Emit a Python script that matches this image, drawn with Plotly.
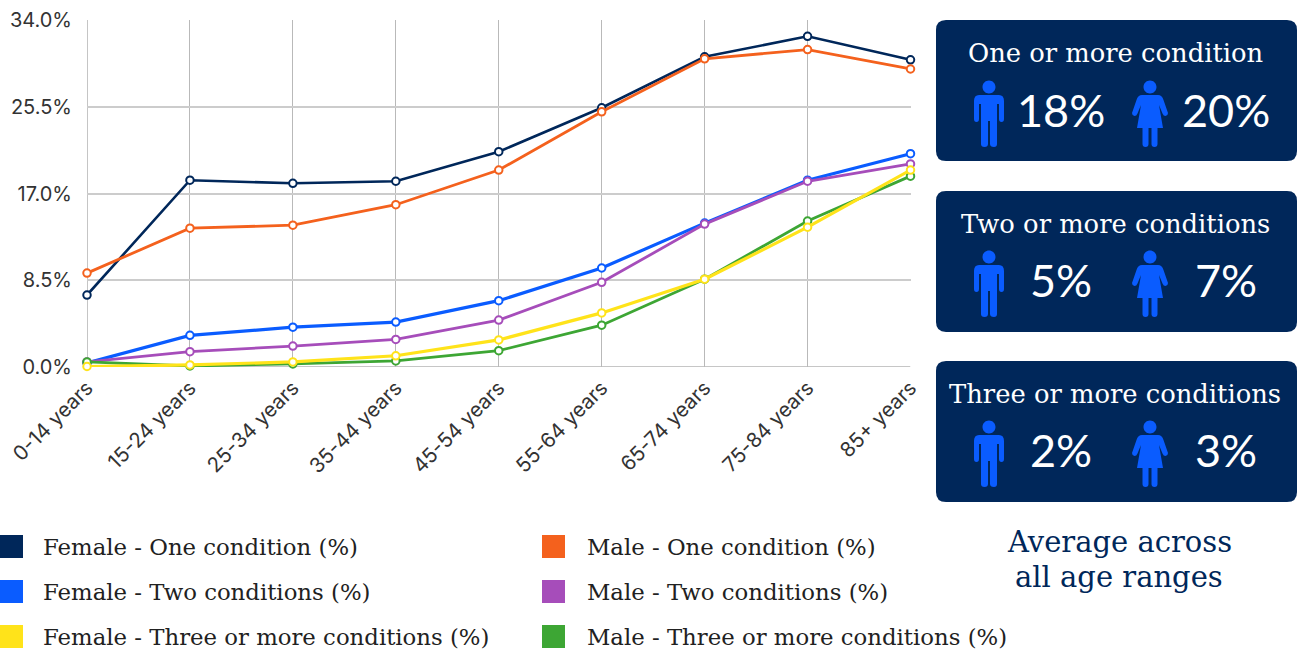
import plotly.graph_objects as go

W, H = 1298, 649
ages = ["0-14 years", "15-24 years", "25-34 years", "35-44 years", "45-54 years",
        "55-64 years", "65-74 years", "75-84 years", "85+ years"]
female_one = [7.05, 18.3, 18.0, 18.2, 21.1, 25.4, 30.4, 32.4, 30.1]
male_one = [9.2, 13.6, 13.9, 15.9, 19.3, 25.0, 30.2, 31.1, 29.2]
female_two = [0.4, 3.1, 3.9, 4.4, 6.5, 9.7, 14.1, 18.3, 20.9]
male_two = [0.5, 1.5, 2.05, 2.7, 4.6, 8.3, 14.0, 18.2, 19.9]
female_three = [0.05, 0.2, 0.5, 1.1, 2.65, 5.3, 8.6, 13.7, 19.3]
male_three = [0.5, 0.1, 0.3, 0.6, 1.6, 4.1, 8.6, 14.3, 18.7]
y_ticks = [0, 8.5, 17, 25.5, 34]
y_labels = ["0.0%", "8.5%", "17.0%", "25.5%", "34.0%"]

NAVY, ORANGE, BLUE, PURPLE, YELLOW, GREEN = "#00275a", "#f4611d", "#0a5cff", "#a64dba", "#ffe31a", "#3da634"
series = [
    ("Female - One condition (%)", female_one, NAVY, 2.6),
    ("Male - One condition (%)", male_one, ORANGE, 2.8),
    ("Female - Two conditions (%)", female_two, BLUE, 3.2),
    ("Male - Two conditions (%)", male_two, PURPLE, 2.8),
    ("Male - Three or more conditions (%)", male_three, GREEN, 2.8),
    ("Female - Three or more conditions (%)", female_three, YELLOW, 3.2),
]
panels = [("One or more condition", "18%", "20%"),
          ("Two or more conditions", "5%", "7%"),
          ("Three or more conditions", "2%", "3%")]
legend_rows = [("Female - One condition (%)", NAVY, 0, 547), ("Male - One condition (%)", ORANGE, 1, 547),
               ("Female - Two conditions (%)", BLUE, 0, 592), ("Male - Two conditions (%)", PURPLE, 1, 592),
               ("Female - Three or more conditions (%)", YELLOW, 0, 637), ("Male - Three or more conditions (%)", GREEN, 1, 637)]

SERIF = "DejaVu Serif"
SANS = "Lato"
TICK = "Inter"

def px(x): return x / W
def py(y): return 1 - y / H

def path(cmds):
    out = []
    for c in cmds:
        if isinstance(c, str):
            out.append(c)
        else:
            out.append(f"{px(c[0]):.6f},{py(c[1]):.6f}")
    return " ".join(out)

def round_rect(x0, y0, x1, y1, r):
    return path(["M", (x0 + r, y0), "L", (x1 - r, y0), "Q", (x1, y0), (x1, y0 + r),
                 "L", (x1, y1 - r), "Q", (x1, y1), (x1 - r, y1),
                 "L", (x0 + r, y1), "Q", (x0, y1), (x0, y1 - r),
                 "L", (x0, y0 + r), "Q", (x0, y0), (x0 + r, y0), "Z"])

def head(cx, cy, r):
    k = 0.5523 * r
    return path(["M", (cx - r, cy), "C", (cx - r, cy - k), (cx - k, cy - r), (cx, cy - r),
                 "C", (cx + k, cy - r), (cx + r, cy - k), (cx + r, cy),
                 "C", (cx + r, cy + k), (cx + k, cy + r), (cx, cy + r),
                 "C", (cx - k, cy + r), (cx - r, cy + k), (cx - r, cy), "Z"])

def man(cx, dy):
    y = lambda v: v + dy
    return head(cx, y(87), 6.5) + " " + path([
        "M", (cx - 10, y(95)), "L", (cx + 10, y(95)), "Q", (cx + 15, y(95)), (cx + 15, y(101)),
        "L", (cx + 15, y(119)), "Q", (cx + 15, y(122)), (cx + 12.5, y(122)), "Q", (cx + 10, y(122)), (cx + 10, y(119)),
        "L", (cx + 10, y(104)), "L", (cx + 8, y(104)), "L", (cx + 8, y(144)),
        "Q", (cx + 8, y(147)), (cx + 5, y(147)), "Q", (cx + 1, y(147)), (cx + 1, y(144)),
        "L", (cx + 1, y(121)), "L", (cx - 1, y(121)), "L", (cx - 1, y(144)),
        "Q", (cx - 1, y(147)), (cx - 4.5, y(147)), "Q", (cx - 8, y(147)), (cx - 8, y(144)),
        "L", (cx - 8, y(104)), "L", (cx - 10, y(104)), "L", (cx - 10, y(119)),
        "Q", (cx - 10, y(122)), (cx - 12.5, y(122)), "Q", (cx - 15, y(122)), (cx - 15, y(119)),
        "L", (cx - 15, y(101)), "Q", (cx - 15, y(95)), (cx - 10, y(95)), "Z"])

def woman(cx, dy):
    y = lambda v: v + dy
    return head(cx, y(87), 6.5) + " " + path([
        "M", (cx - 8, y(95)), "L", (cx + 8, y(95)), "Q", (cx + 12, y(95)), (cx + 13.5, y(100)),
        "L", (cx + 18, y(113)), "Q", (cx + 18, y(115.5)), (cx + 15.5, y(116)), "Q", (cx + 13.5, y(116)), (cx + 12.5, y(113.5)),
        "L", (cx + 9, y(105)), "L", (cx + 13, y(128)), "L", (cx + 7.5, y(128)), "L", (cx + 7.5, y(144)),
        "Q", (cx + 7.5, y(147)), (cx + 4.5, y(147)), "Q", (cx + 1.5, y(147)), (cx + 1.5, y(144)),
        "L", (cx + 1.5, y(128)), "L", (cx - 1.5, y(128)), "L", (cx - 1.5, y(144)),
        "Q", (cx - 1.5, y(147)), (cx - 4.5, y(147)), "Q", (cx - 7.5, y(147)), (cx - 7.5, y(144)),
        "L", (cx - 7.5, y(128)), "L", (cx - 13, y(128)), "L", (cx - 9, y(105)),
        "L", (cx - 12.5, y(113.5)), "Q", (cx - 13.5, y(116)), (cx - 15.5, y(116)), "Q", (cx - 18, y(115.5)), (cx - 18, y(113)),
        "L", (cx - 13.5, y(100)), "Q", (cx - 12, y(95)), (cx - 8, y(95)), "Z"])

fig = go.Figure()
for name, vals, color, lw in series:
    fig.add_trace(go.Scatter(x=list(range(len(ages))), y=vals, name=name, mode="lines+markers",
                             line=dict(color=color, width=lw),
                             marker=dict(size=7.5, color="white", line=dict(color=color, width=2)),
                             cliponaxis=False))

shapes, notes = [], []
def text(x, y, s, size, color, font=SERIF, anchor="center", weight=None):
    f = dict(family=font, size=size, color=color)
    if weight: f["weight"] = weight
    notes.append(dict(x=px(x), y=py(y), xref="paper", yref="paper", text=s, showarrow=False,
                      xanchor=anchor, yanchor="middle", font=f))

for i, (title, m, f) in enumerate(panels):
    top = [20, 191, 361][i]
    d = [0, 170, 340][i]
    shapes.append(dict(type="path", path=round_rect(936, top, 1297, top + 141, 10), xref="paper", yref="paper",
                       fillcolor=NAVY, line=dict(width=0), layer="below"))
    shapes.append(dict(type="path", path=man(989, d), xref="paper", yref="paper", fillcolor=BLUE, line=dict(width=0)))
    shapes.append(dict(type="path", path=woman(1150, d), xref="paper", yref="paper", fillcolor=BLUE, line=dict(width=0)))
    text(1115, top + 33, title, 25.8, "white")
    text(1061, 110 + d, m, 45, "white", SANS, weight=400)
    text(1226, 110 + d, f, 45, "white", SANS, weight=400)

for label, color, col, y in legend_rows:
    x0 = [0, 542][col]
    shapes.append(dict(type="rect", x0=px(x0), x1=px(x0 + 23), y0=py(y - 12), y1=py(y + 11), xref="paper", yref="paper",
                       fillcolor=color, line=dict(width=0)))
    text([41, 585][col], y, label, 22.8, "#212121", anchor="left")

text(1119, 542, "Average across", 29, NAVY)
text(1119, 577, "all age ranges", 29, NAVY)

fig.update_layout(
    template="none",
    width=W, height=H, autosize=False, margin=dict(l=0, r=0, t=0, b=0, autoexpand=False),
    paper_bgcolor="white", plot_bgcolor="white", showlegend=False,
    shapes=shapes, annotations=notes,
    xaxis=dict(domain=[px(87), px(910.5)], range=[0, 8], showgrid=True, gridcolor="#b9b9b9", gridwidth=1,
               tickmode="array", tickvals=list(range(9)), ticktext=ages, tickangle=-45, ticks="",
               ticklabelstandoff=4,
               tickfont=dict(family=TICK, size=20.5, color="#333333"), showline=False, zeroline=False,
               fixedrange=True, automargin=False),
    yaxis=dict(domain=[py(367), py(20)], range=[0, 34], tickmode="array", tickvals=y_ticks, ticktext=y_labels,
               showgrid=True, gridcolor="#cccccc", gridwidth=1.5, zeroline=False, showline=False, ticks="",
               ticklabelstandoff=14,
               tickfont=dict(family=TICK, size=20, color="#333333"), fixedrange=True, automargin=False),
)
fig.add_shape(type="line", xref="x", yref="y", x0=0, x1=0, y0=0, y1=34, line=dict(color="#8c8c8c", width=1), layer="below")
fig.add_shape(type="line", xref="x", yref="y", x0=0, x1=8, y0=0, y1=0, line=dict(color="#8c8c8c", width=1), layer="below")
fig.write_html("out.html", config=dict(displayModeBar=False),
               post_script="document.body.style.margin='0';document.body.style.overflow='hidden';")
